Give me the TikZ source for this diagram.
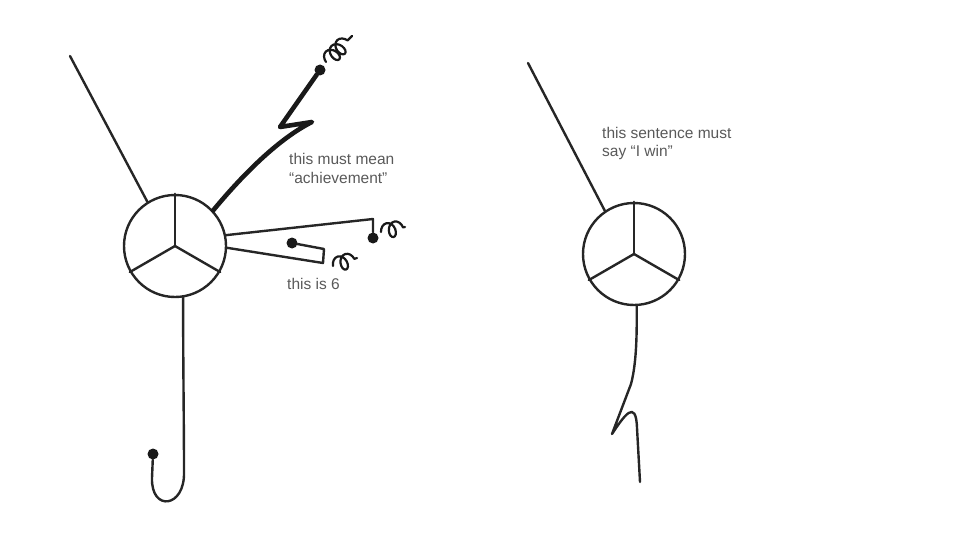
\documentclass[tikz,border=0pt]{standalone}
\usepackage{fontspec}
\setmainfont{Liberation Sans}
\usetikzlibrary{decorations.pathmorphing}
\begin{document}
\begin{tikzpicture}[x=1pt, y=-1pt, line join=round, line cap=round,
    wire/.style={line width=2.4pt, black!85},
    thickwire/.style={line width=4.6pt, black!90},
    ring/.style={circle, draw, black!85, line width=2.4pt, minimum size=102pt, inner sep=0pt},
    spring/.style={line width=2.2pt, black!90, decorate,
      decoration={coil, amplitude=7.5pt, segment length=8pt, aspect=0.7}},
    knob/.style={circle, fill=black!90, inner sep=0pt, minimum size=11pt},
    note/.style={font=\fontsize{15.5}{18.5}\selectfont, text=black!65,
      align=left, anchor=base west, inner sep=0pt}]
    \useasboundingbox (0,0) rectangle (960,540);

    % Left wheel and its spokes
    \node[ring] (wheelL) at (175,246) {};
    \foreach \ang in {90,210,330}
      \draw[wire] (wheelL.center) -- (wheelL.\ang);

    % Right wheel and its spokes
    \node[ring] (wheelR) at (634,254) {};
    \foreach \ang in {90,210,330}
      \draw[wire] (wheelR.center) -- (wheelR.\ang);

    % Free ends and knobs
    \coordinate (tipL) at (70,56);
    \coordinate (tipR) at (528,63);
    \node[knob] (knobTop) at (320,70) {};
    \node[knob] (knobMid) at (373,238) {};
    \node[knob] (knobLow) at (292,243) {};
    \node[knob] (knobFoot) at (153,454) {};
    \coordinate (endR) at (640,482);

    % Left wheel wires
    \draw[wire] (wheelL.122) -- (tipL);
    \draw[thickwire] (wheelL.43) .. controls (245,172) and (280,138) .. (312,122)
      -- (280,127) -- (knobTop);
    \draw[wire] (wheelL.12) -- (373,219) -- (knobMid);
    \draw[wire] (wheelL.-2) -- (323,263) -- (324,249) -- (knobLow);
    \draw[wire] (wheelL.-81) .. controls (183,360) and (184,420) .. (184,472)
      .. controls (185,508) and (151,512) .. (152,478) -- (knobFoot);

    % Springs
    \draw[spring] (326,62) -- (352,36);
    \draw[spring] (381,232) -- (405,227);
    \draw[spring] (333,266) -- (357,258);

    % Right wheel wires
    \draw[wire] (wheelR.124) -- (tipR);
    \draw[wire] (wheelR.-87) .. controls (637,340) and (636,365) .. (631,384)
      -- (612,434) .. controls (624,416) and (636,398) .. (637,428) -- (endR);

    % Notes
    \node[note] (noteMean) at (289,183) {this must mean\\“achievement”};
    \node[note] (noteSix) at (287,289) {this is 6};
    \node[note] (noteWin) at (602,157) {this sentence must\\say “I win”};
  \end{tikzpicture}
\end{document}
